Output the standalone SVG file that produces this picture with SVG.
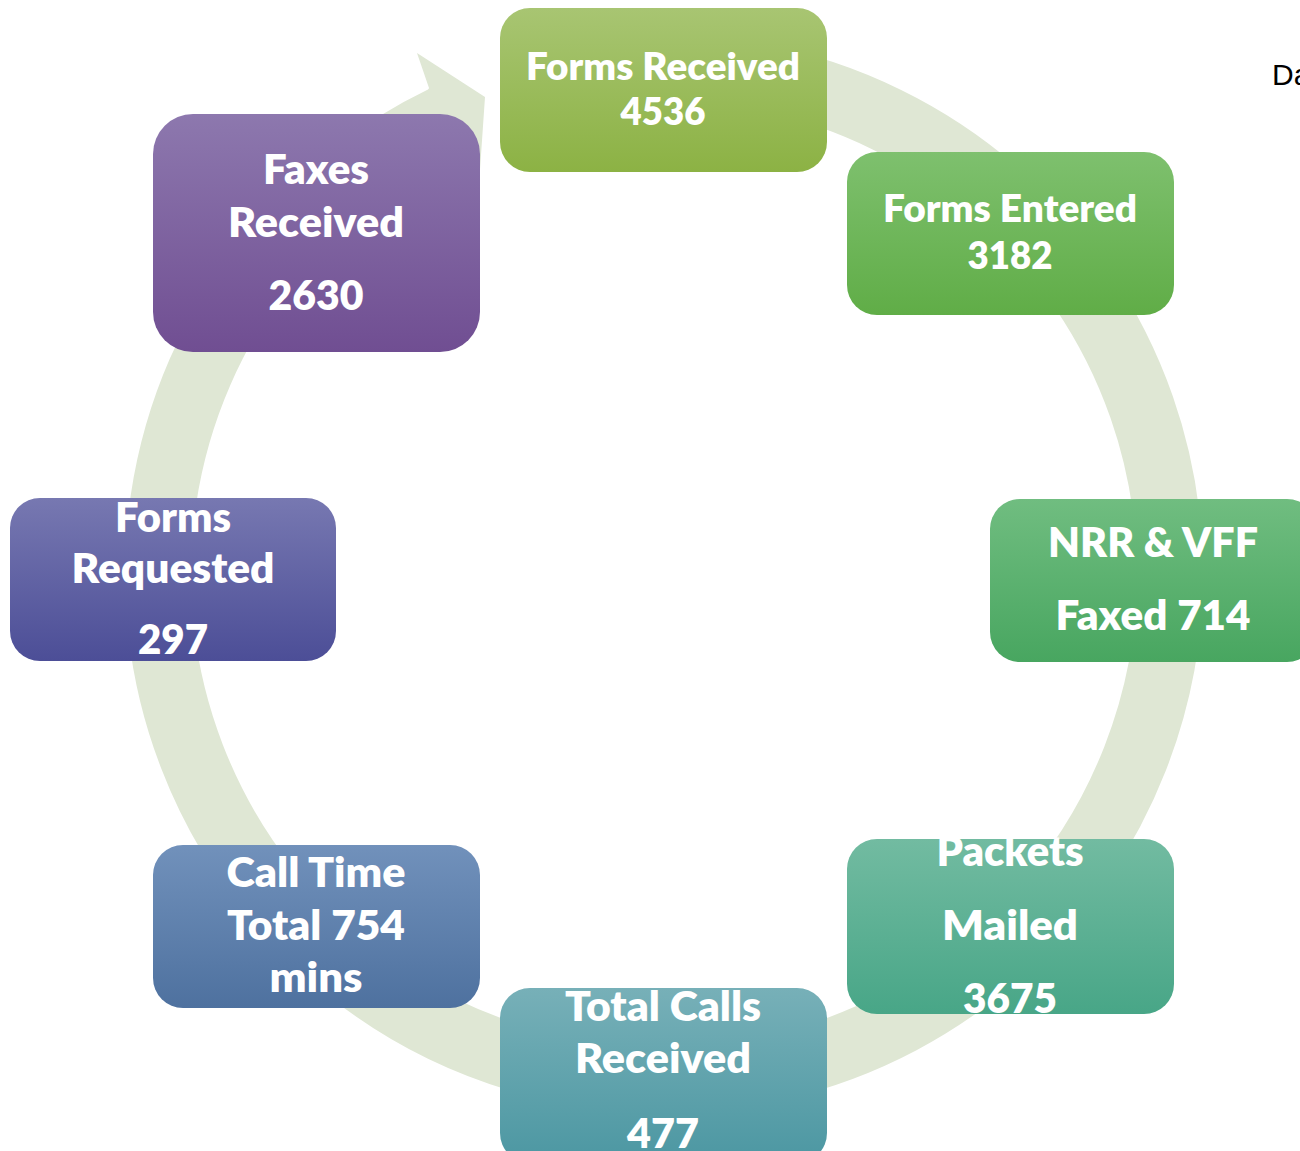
<svg xmlns="http://www.w3.org/2000/svg" width="1300" height="1151" viewBox="0 0 1300 1151">
<style>
.t{font-family:Lato,"Open Sans","Liberation Sans",sans-serif;font-weight:800;fill:#ffffff;text-anchor:middle;}
.b{font-size:42px;}
.s{font-size:38px;}
.ring{fill:none;stroke:#dfe7d4;stroke-width:66;}
</style>
<defs>
<linearGradient id="g1" x1="0" y1="0" x2="0" y2="1"><stop offset="0" stop-color="#a8c572"/><stop offset="1" stop-color="#8cb244"/></linearGradient>
<linearGradient id="g2" x1="0" y1="0" x2="0" y2="1"><stop offset="0" stop-color="#7ec06e"/><stop offset="1" stop-color="#60ad47"/></linearGradient>
<linearGradient id="g3" x1="0" y1="0" x2="0" y2="1"><stop offset="0" stop-color="#70bd80"/><stop offset="1" stop-color="#48a660"/></linearGradient>
<linearGradient id="g4" x1="0" y1="0" x2="0" y2="1"><stop offset="0" stop-color="#72bba1"/><stop offset="1" stop-color="#48a687"/></linearGradient>
<linearGradient id="g5" x1="0" y1="0" x2="0" y2="1"><stop offset="0" stop-color="#77b0b8"/><stop offset="1" stop-color="#4c97a2"/></linearGradient>
<linearGradient id="g6" x1="0" y1="0" x2="0" y2="1"><stop offset="0" stop-color="#7191bb"/><stop offset="1" stop-color="#4e719f"/></linearGradient>
<linearGradient id="g7" x1="0" y1="0" x2="0" y2="1"><stop offset="0" stop-color="#7778b1"/><stop offset="1" stop-color="#4c4e97"/></linearGradient>
<linearGradient id="g8" x1="0" y1="0" x2="0" y2="1"><stop offset="0" stop-color="#8d78ae"/><stop offset="1" stop-color="#704e92"/></linearGradient>
</defs>
<rect width="1300" height="1151" fill="#ffffff"/>
<g id="connectors">
<path class="ring" d="M664 68 A506 506 0 1 1 443.8 118.4"/>
<polygon points="417,53 485,97 479,184 452,152 426,95 429,88" fill="#dfe7d4"/>
</g>
<g id="n1">
<rect x="500" y="8" width="327" height="164" rx="30" fill="url(#g1)"/>
<text class="t s" x="663" y="80" textLength="274" lengthAdjust="spacingAndGlyphs">Forms Received</text>
<text class="t s" x="663" y="125" textLength="85" lengthAdjust="spacingAndGlyphs">4536</text>
</g>
<g id="n2">
<rect x="847" y="152" width="327" height="163" rx="30" fill="url(#g2)"/>
<text class="t s" x="1010" y="222" textLength="254" lengthAdjust="spacingAndGlyphs">Forms Entered</text>
<text class="t s" x="1010" y="269" textLength="85" lengthAdjust="spacingAndGlyphs">3182</text>
</g>
<g id="n3">
<rect x="990" y="499" width="327" height="163" rx="30" fill="url(#g3)"/>
<text class="t b" x="1153" y="557" textLength="210" lengthAdjust="spacingAndGlyphs">NRR &amp; VFF</text>
<text class="t b" x="1153" y="630" textLength="195" lengthAdjust="spacingAndGlyphs">Faxed 714</text>
</g>
<g id="n4">
<rect x="847" y="839" width="327" height="175" rx="30" fill="url(#g4)"/>
<text class="t b" x="1010" y="866" textLength="147" lengthAdjust="spacingAndGlyphs">Packets</text>
<text class="t b" x="1010" y="940" textLength="136" lengthAdjust="spacingAndGlyphs">Mailed</text>
<text class="t b" x="1010" y="1013" textLength="94" lengthAdjust="spacingAndGlyphs">3675</text>
</g>
<g id="n5">
<rect x="500" y="988" width="327" height="175" rx="30" fill="url(#g5)"/>
<text class="t b" x="663" y="1021" textLength="196" lengthAdjust="spacingAndGlyphs">Total Calls</text>
<text class="t b" x="663" y="1073" textLength="176" lengthAdjust="spacingAndGlyphs">Received</text>
<text class="t b" x="663" y="1148" textLength="72" lengthAdjust="spacingAndGlyphs">477</text>
</g>
<g id="n6">
<rect x="153" y="845" width="327" height="163" rx="30" fill="url(#g6)"/>
<text class="t b" x="316" y="887" textLength="179" lengthAdjust="spacingAndGlyphs">Call Time</text>
<text class="t b" x="316" y="940" textLength="178" lengthAdjust="spacingAndGlyphs">Total 754</text>
<text class="t b" x="316" y="992" textLength="93" lengthAdjust="spacingAndGlyphs">mins</text>
</g>
<g id="n7">
<rect x="10" y="498" width="326" height="163" rx="30" fill="url(#g7)"/>
<text class="t b" x="173" y="532" textLength="116" lengthAdjust="spacingAndGlyphs">Forms</text>
<text class="t b" x="173" y="583" textLength="203" lengthAdjust="spacingAndGlyphs">Requested</text>
<text class="t b" x="173" y="654" textLength="70" lengthAdjust="spacingAndGlyphs">297</text>
</g>
<g id="n8">
<rect x="153" y="114" width="327" height="238" rx="40" fill="url(#g8)"/>
<text class="t b" x="316" y="184" textLength="106" lengthAdjust="spacingAndGlyphs">Faxes</text>
<text class="t b" x="316" y="237" textLength="176" lengthAdjust="spacingAndGlyphs">Received</text>
<text class="t b" x="316" y="310" textLength="95" lengthAdjust="spacingAndGlyphs">2630</text>
</g>
<text x="1272" y="85" font-family="'Liberation Sans',Arial,sans-serif" font-size="30" fill="#000000">Da</text>
</svg>
